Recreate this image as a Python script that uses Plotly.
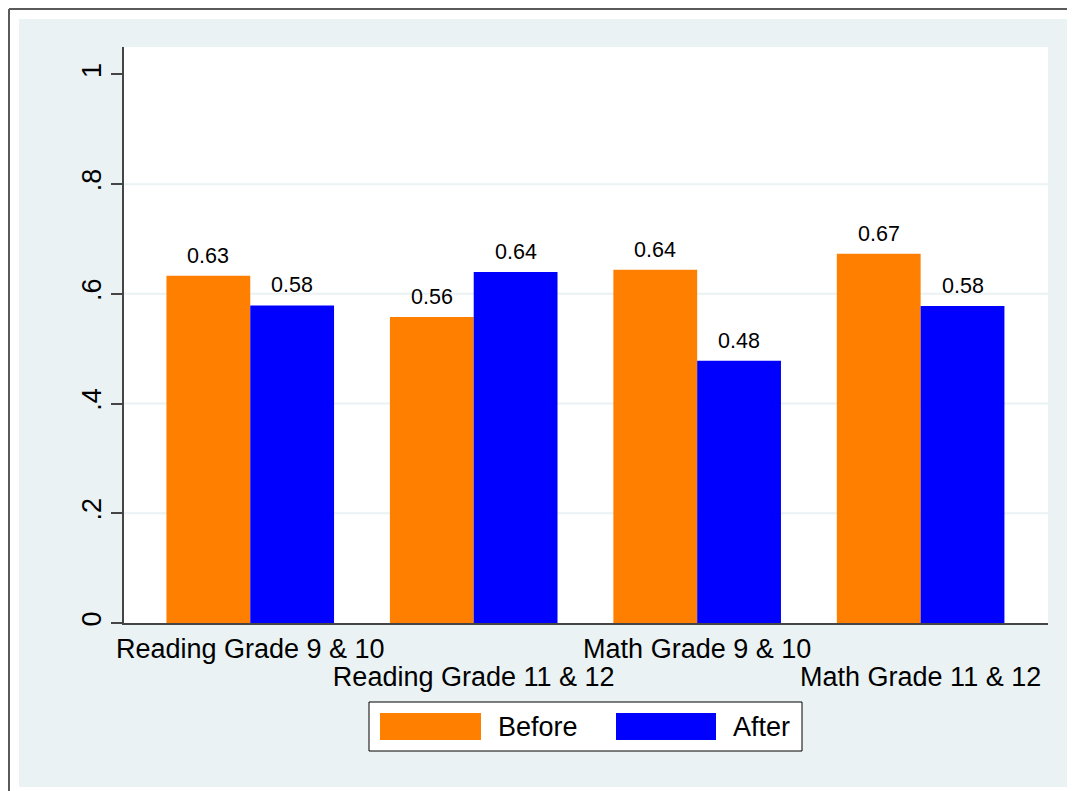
import plotly.graph_objects as go

# ---- data ----
categories = ["Reading Grade 9 & 10", "Reading Grade 11 & 12",
              "Math Grade 9 & 10", "Math Grade 11 & 12"]
before = [0.633, 0.558, 0.644, 0.673]
after = [0.579, 0.640, 0.478, 0.578]
series_names = ["Before", "After"]
y_tickvals = [0, 0.2, 0.4, 0.6, 0.8, 1]
y_ticktext = ["0", ".2", ".4", ".6", ".8", "1"]
grid_values = [0.2, 0.4, 0.6, 0.8]

# ---- styling ----
ORANGE = "#FF7F00"
BLUE = "#0000FF"
BG = "#EAF2F3"
AXIS = "#454545"
FONT = "Liberation Sans, Arial, sans-serif"
BIG = 27

OFS = 8  # page body margin
W, H = 1075 - OFS, 791 - OFS
L, R, T, B = 124 - OFS, 1048 - OFS, 47 - OFS, 623 - OFS
PW, PH = R - L, B - T


def xp(px):
    return (px - OFS - L) / PW


def yp(py):
    return (B - (py - OFS)) / PH


xpos = list(range(len(categories)))
bargap = 0.25
off = (1 - bargap) / 4

fig = go.Figure()
fig.add_trace(go.Bar(x=xpos, y=before, name=series_names[0],
                     marker=dict(color=ORANGE, line=dict(width=0)),
                     showlegend=False, hoverinfo="x+y"))
fig.add_trace(go.Bar(x=xpos, y=after, name=series_names[1],
                     marker=dict(color=BLUE, line=dict(width=0)),
                     showlegend=False, hoverinfo="x+y"))
# invisible helper trace so the staggered second label axis is drawn
fig.add_trace(go.Scatter(x=xpos, y=after, xaxis="x2", mode="markers",
                         marker=dict(opacity=0), showlegend=False,
                         hoverinfo="skip"))

shapes = []
# light background panel and outer frame
shapes.append(dict(type="rect", xref="paper", yref="paper", layer="below",
                   x0=xp(19), x1=xp(1090), y0=yp(787), y1=yp(19),
                   fillcolor=BG, line=dict(width=0)))
shapes.append(dict(type="rect", xref="paper", yref="paper", layer="below",
                   x0=0, x1=1, y0=0, y1=1,
                   fillcolor="white", line=dict(width=0)))
shapes.append(dict(type="line", xref="paper", yref="paper", layer="below",
                   x0=xp(9), x1=xp(9), y0=yp(9), y1=yp(800),
                   line=dict(color="#5a5a5a", width=2)))
shapes.append(dict(type="line", xref="paper", yref="paper", layer="below",
                   x0=xp(9), x1=xp(1090), y0=yp(9), y1=yp(9),
                   line=dict(color="#5a5a5a", width=2)))
# grid lines (interior ticks only)
for g in grid_values:
    shapes.append(dict(type="line", xref="paper", yref="y", layer="below",
                       x0=0, x1=1, y0=g, y1=g,
                       line=dict(color=BG, width=2)))
# legend
shapes.append(dict(type="rect", xref="paper", yref="paper", layer="above",
                   x0=xp(369), x1=xp(802), y0=yp(751), y1=yp(702),
                   fillcolor="white", line=dict(color="black", width=1)))
shapes.append(dict(type="rect", xref="paper", yref="paper", layer="above",
                   x0=xp(380), x1=xp(481), y0=yp(740), y1=yp(713),
                   fillcolor=ORANGE, line=dict(width=0)))
shapes.append(dict(type="rect", xref="paper", yref="paper", layer="above",
                   x0=xp(616), x1=xp(716), y0=yp(740), y1=yp(713),
                   fillcolor=BLUE, line=dict(width=0)))

annotations = []
for i, (b, a) in enumerate(zip(before, after)):
    for xv, v in ((i - off, b), (i + off, a)):
        annotations.append(dict(x=xv, y=v, xref="x", yref="y",
                                text=f"{v:.2f}", showarrow=False,
                                yanchor="bottom", xanchor="center", yshift=6,
                                font=dict(size=21.5, color="black", family=FONT)))
annotations.append(dict(x=xp(496), y=yp(727), xref="paper", yref="paper",
                        text=series_names[0], showarrow=False,
                        xanchor="left", yanchor="middle",
                        font=dict(size=BIG, color="black", family=FONT)))
annotations.append(dict(x=xp(731), y=yp(727), xref="paper", yref="paper",
                        text=series_names[1], showarrow=False,
                        xanchor="left", yanchor="middle",
                        font=dict(size=BIG, color="black", family=FONT)))

xrange = [-0.565, len(categories) - 1 + 0.57]

fig.update_layout(
    width=W, height=H,
    margin=dict(l=L, r=W - R, t=T, b=H - B, autoexpand=False),
    paper_bgcolor="white", plot_bgcolor="white",
    barmode="group", bargap=bargap, bargroupgap=0,
    font=dict(family=FONT, color="black"),
    shapes=shapes, annotations=annotations,
    xaxis=dict(range=xrange, tickvals=xpos[0::2], ticktext=categories[0::2],
               ticks="", showgrid=False, zeroline=False,
               showline=True, linecolor=AXIS, linewidth=2,
               ticklabelstandoff=1,
               tickfont=dict(size=BIG, color="black", family=FONT)),
    xaxis2=dict(range=xrange, overlaying="x", anchor="y", side="bottom",
                tickvals=xpos[1::2], ticktext=categories[1::2],
                ticks="", showgrid=False, zeroline=False, showline=False,
                ticklabelstandoff=35,
                tickfont=dict(size=BIG, color="black", family=FONT)),
    yaxis=dict(range=[0, 1.05], tickvals=y_tickvals, ticktext=y_ticktext,
               tickangle=-90, ticks="outside", ticklen=11, tickwidth=2,
               tickcolor=AXIS, showgrid=False, zeroline=False,
               showline=True, linecolor=AXIS, linewidth=2,
               ticklabelstandoff=-1,
               tickfont=dict(size=BIG, color="black", family=FONT)),
)

fig.write_html("out.html")
